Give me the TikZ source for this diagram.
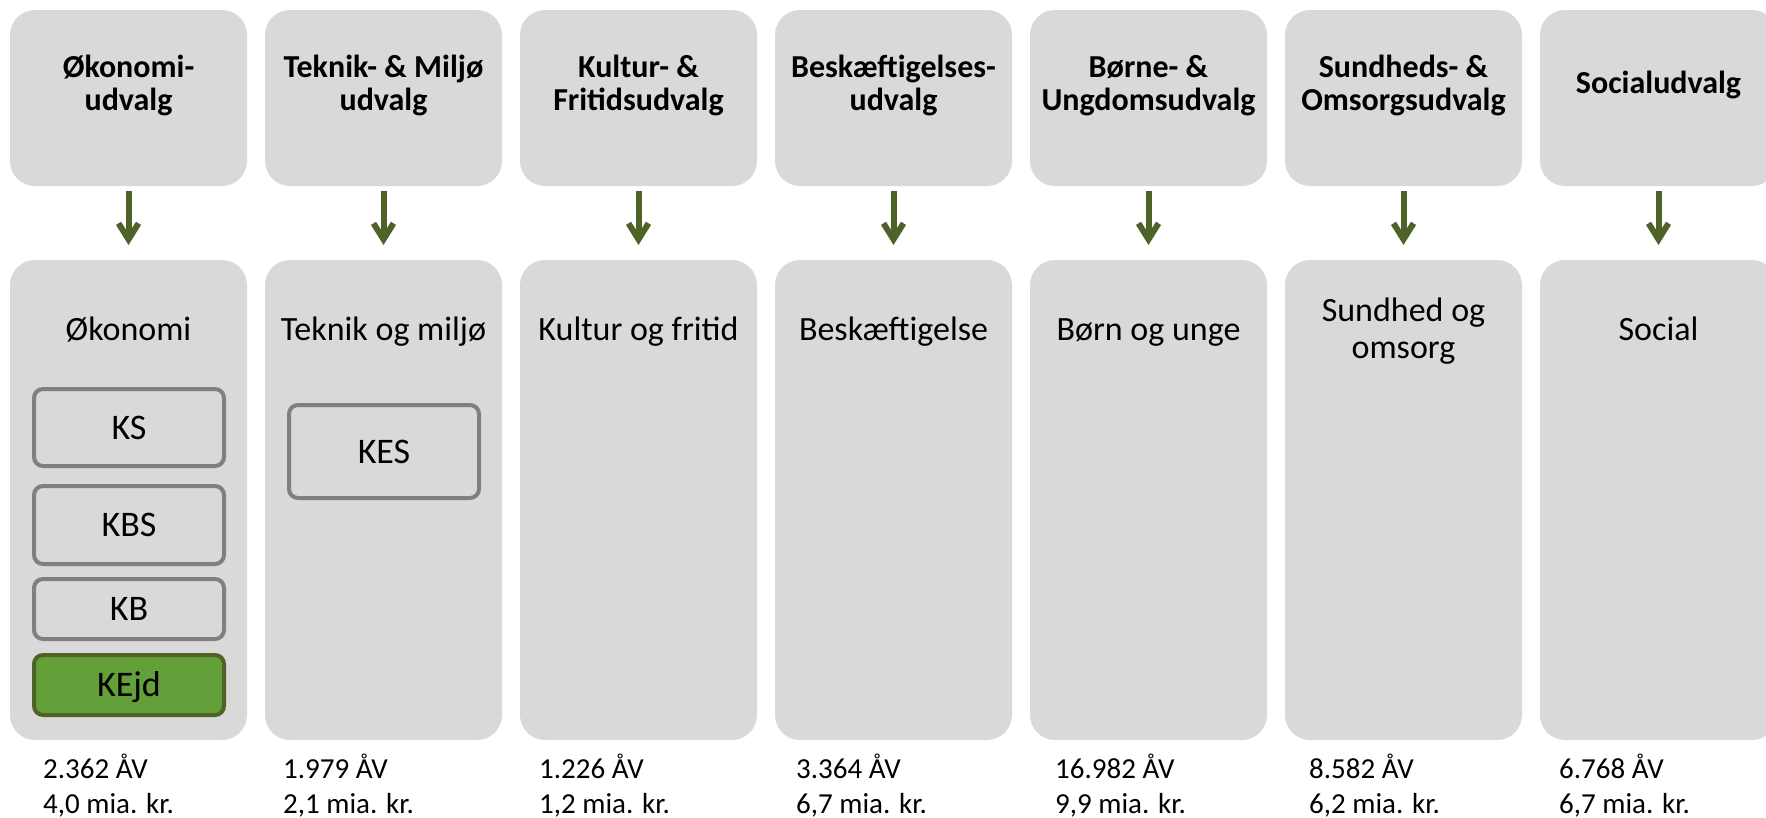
\documentclass[tikz,border=0pt]{standalone}
\usepackage{fontspec}
\setmainfont{Carlito}
\usetikzlibrary{arrows.meta}
\definecolor{boxgray}{HTML}{D9D9D9}
\definecolor{subborder}{HTML}{808080}
\definecolor{arrowgreen}{HTML}{4F6228}
\definecolor{kejdfill}{HTML}{64A03A}
\definecolor{kejdborder}{HTML}{4F6228}
\begin{document}
\begin{tikzpicture}[x=1pt,y=-1pt,
  topbox/.style={fill=boxgray, draw=none, rounded corners=25pt, minimum width=237pt, minimum height=176pt, inner sep=0pt, outer sep=0pt},
  botbox/.style={fill=boxgray, draw=none, rounded corners=25pt, minimum width=237pt, minimum height=480pt, inner sep=0pt, outer sep=0pt},
  titletext/.style={font=\fontsize{32}{33}\selectfont\bfseries, align=center, inner sep=0pt},
  bodytext/.style={font=\fontsize{34}{37}\selectfont, align=center, inner sep=0pt},
  figtext/.style={font=\fontsize{29}{35}\selectfont, align=left, inner sep=0pt, anchor=north west},
  subbox/.style={draw=subborder, line width=4pt, rounded corners=9pt, fill=boxgray, minimum width=190pt, inner sep=0pt, font=\fontsize{36}{40}\selectfont, text height=23pt, text depth=0pt},
  kejd/.style={subbox, fill=kejdfill, draw=kejdborder},
  arr/.style={draw=arrowgreen, line width=6pt, -{Straight Barb[length=16pt,width=20pt]}, shorten <=5pt, shorten >=15pt}
]
\useasboundingbox (0,0) rectangle (1766,817);
\clip (0,0) rectangle (1766,817);

% boxes
\node[topbox] (t1) at (128.5,98) {};
\node[topbox] (t2) at (383.5,98) {};
\node[topbox] (t3) at (638.5,98) {};
\node[topbox] (t4) at (893.5,98) {};
\node[topbox] (t5) at (1148.5,98) {};
\node[topbox] (t6) at (1403.5,98) {};
\node[topbox] (t7) at (1658.5,98) {};

\node[botbox] (b1) at (128.5,500) {};
\node[botbox] (b2) at (383.5,500) {};
\node[botbox] (b3) at (638.5,500) {};
\node[botbox] (b4) at (893.5,500) {};
\node[botbox] (b5) at (1148.5,500) {};
\node[botbox] (b6) at (1403.5,500) {};
\node[botbox] (b7) at (1658.5,500) {};

% arrows
\foreach \i in {1,...,7} \draw[arr] (t\i.south) -- (b\i.north);

% titles
\node[titletext] (tt1) at (128.5,87) {\strut Økonomi-\\\strut udvalg};
\node[titletext] (tt2) at (383.5,87) {\strut Teknik- \& Miljø\\\strut udvalg};
\node[titletext] (tt3) at (638.5,87) {\strut Kultur- \&\\\strut Fritidsudvalg};
\node[titletext] (tt4) at (893.5,87) {\strut Beskæftigelses-\\\strut udvalg};
\node[titletext] (tt5) at (1148.5,87) {\strut Børne- \&\\\strut Ungdomsudvalg};
\node[titletext] (tt6) at (1403.5,87) {\strut Sundheds- \&\\\strut Omsorgsudvalg};
\node[titletext] (tt7) at (1658.5,87) {\strut Socialudvalg};

% body titles
\node[bodytext] (bt1) at (128.5,333) {\strut Økonomi};
\node[bodytext] (bt2) at (383.5,333) {\strut Teknik og miljø};
\node[bodytext] (bt3) at (638.5,333) {\strut Kultur og fritid};
\node[bodytext] (bt4) at (893.5,333) {\strut Beskæftigelse};
\node[bodytext] (bt5) at (1148.5,333) {\strut Børn og unge};
\node[bodytext] (bt6) at (1403.5,333) {\strut Sundhed og\\\strut omsorg};
\node[bodytext] (bt7) at (1658.5,333) {\strut Social};

% sub boxes
\node[subbox, minimum height=77pt] (ks) at (129,427.5) {KS};
\node[subbox, minimum height=78pt] (kbs) at (129,525) {KBS};
\node[subbox, minimum height=60pt] (kb) at (129,609) {KB};
\node[kejd, minimum height=60pt] (kejd) at (129,685) {KEjd};
\node[subbox, minimum height=93pt] (kes) at (384,451.5) {KES};

% figures
\node[figtext] (f1) at (43,753.5) {\strut 2.362 ÅV\\\strut 4,0 mia. kr.};
\node[figtext] (f2) at (283,753.5) {\strut 1.979 ÅV\\\strut 2,1 mia. kr.};
\node[figtext] (f3) at (539,753.5) {\strut 1.226 ÅV\\\strut 1,2 mia. kr.};
\node[figtext] (f4) at (796,753.5) {\strut 3.364 ÅV\\\strut 6,7 mia. kr.};
\node[figtext] (f5) at (1055,753.5) {\strut 16.982 ÅV\\\strut 9,9 mia. kr.};
\node[figtext] (f6) at (1309,753.5) {\strut 8.582 ÅV\\\strut 6,2 mia. kr.};
\node[figtext] (f7) at (1559,753.5) {\strut 6.768 ÅV\\\strut 6,7 mia. kr.};
\end{tikzpicture}
\end{document}
